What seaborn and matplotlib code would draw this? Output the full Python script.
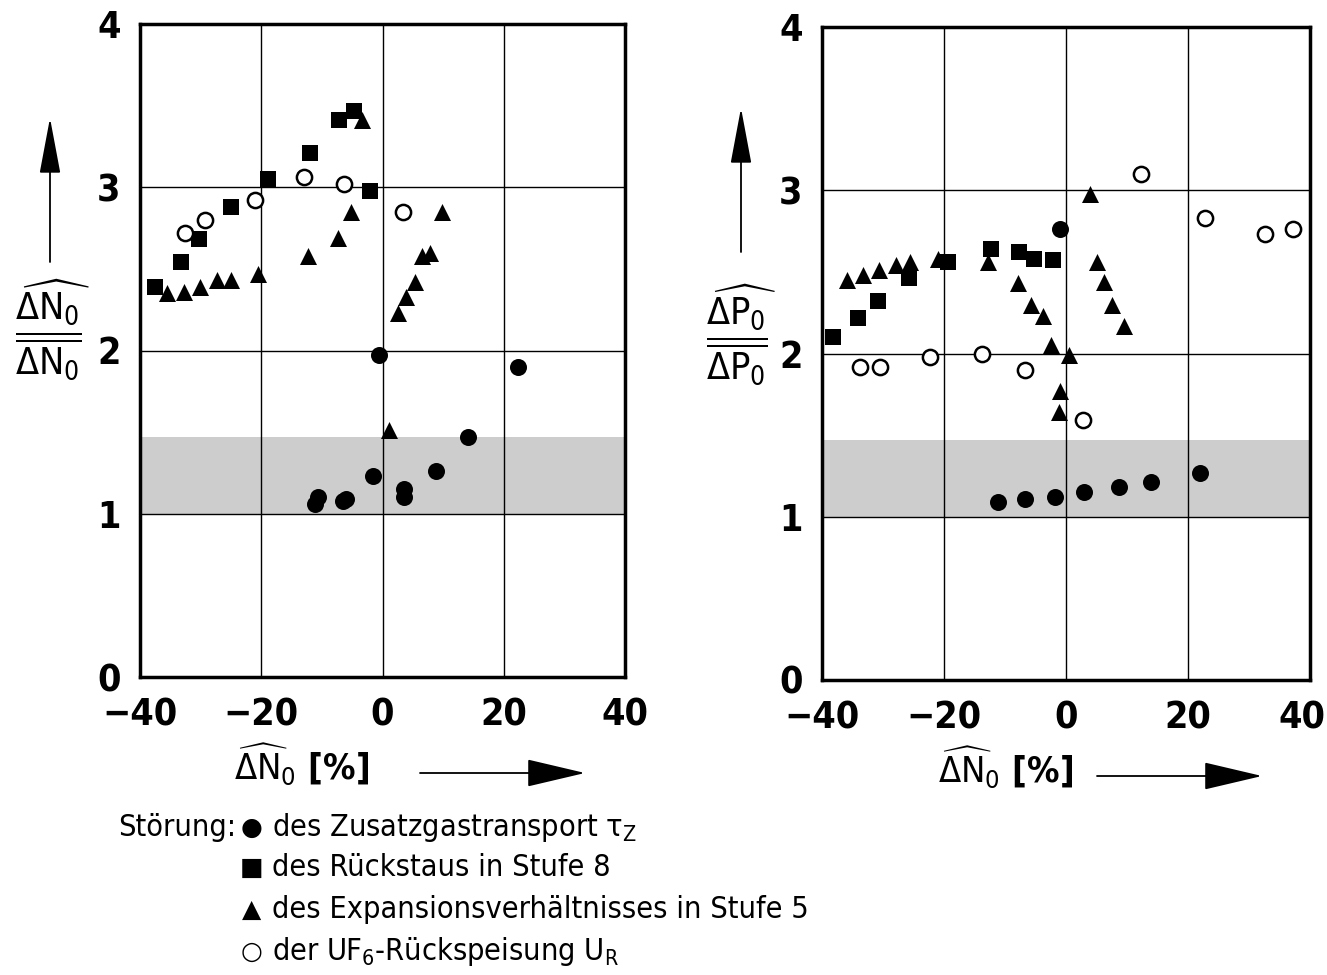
import matplotlib
matplotlib.use("Agg")
import matplotlib.pyplot as plt
import matplotlib.transforms as mtrans
import seaborn as sns
from matplotlib.patches import FancyArrowPatch
from matplotlib import font_manager as fm

# ---------------- data ----------------
# left panel: normalized ΔN0 amplitude vs ΔN0 [%]
circ_L_x = [-0.5, 22.3, 14.1, -1.6, 8.9, 3.5, 3.5, -10.6, -11.2, -6.5, -6.0]
circ_L_y = [1.97, 1.90, 1.47, 1.23, 1.26, 1.15, 1.10, 1.10, 1.06, 1.08, 1.09]
sq_L_x = [-37.6, -33.3, -30.2, -25.0, -18.9, -12.0, -7.2, -4.7, -2.0]
sq_L_y = [2.39, 2.54, 2.68, 2.88, 3.05, 3.21, 3.41, 3.47, 2.98]
tri_L_x = [-35.6, -32.8, -30.1, -27.3, -25.0, -20.5, -12.3, -7.3, -5.2, -3.3,
           1.0, 2.6, 3.9, 5.4, 6.5, 7.8, 9.8]
tri_L_y = [2.35, 2.36, 2.39, 2.43, 2.43, 2.47, 2.58, 2.69, 2.85, 3.41,
           1.51, 2.23, 2.33, 2.42, 2.58, 2.60, 2.85]
open_L_x = [-32.5, -29.3, -21.0, -13.0, -6.3, 3.3]
open_L_y = [2.72, 2.80, 2.92, 3.06, 3.02, 2.85]

# right panel: normalized ΔP0 amplitude vs ΔN0 [%]
circ_R_x = [-11.1, -6.7, -1.8, 3.0, 8.7, 13.9, 22.0, -1.0]
circ_R_y = [1.09, 1.11, 1.12, 1.15, 1.18, 1.21, 1.27, 2.76]
sq_R_x = [-38.2, -34.1, -30.8, -25.7, -19.3, -12.3, -7.7, -5.3, -2.1]
sq_R_y = [2.10, 2.22, 2.32, 2.46, 2.56, 2.64, 2.62, 2.58, 2.57]
tri_R_x = [-35.9, -33.3, -30.7, -27.9, -25.6, -21.0, -12.8, -7.9, -5.7, -3.8,
           -2.5, 0.5, -1.0, -1.1, 4.0, 5.1, 6.2, 7.5, 9.5]
tri_R_y = [2.45, 2.48, 2.51, 2.54, 2.56, 2.58, 2.56, 2.43, 2.30, 2.23,
           2.05, 1.99, 1.77, 1.64, 2.98, 2.56, 2.44, 2.30, 2.17]
open_R_x = [-33.8, -30.5, -22.3, -13.8, -6.7, 2.8, 12.3, 22.8, 32.6, 37.2]
open_R_y = [1.92, 1.92, 1.98, 2.00, 1.90, 1.59, 3.10, 2.83, 2.73, 2.76]

band_lo, band_hi = 1.0, 1.47
x_ticks = [-40, -20, 0, 20, 40]
y_ticks = [0, 1, 2, 3, 4]

legend_title = "Störung:"
legend_labels = ["des Zusatzgastransport $\\tau_Z$",
                 "des Rückstaus in Stufe 8",
                 "des Expansionsverhältnisses in Stufe 5",
                 "der UF$_6$-Rückspeisung U$_R$"]

# ---------------- style ----------------
sns.set_theme(style="white")
cond = any(f.name == "DejaVu Sans" and f.stretch == "condensed" for f in fm.fontManager.ttflist)
plt.rcParams["font.family"] = ["DejaVu Sans"]
if cond:
    plt.rcParams["font.stretch"] = "condensed"
    plt.rcParams["mathtext.fontset"] = "custom"
    plt.rcParams["mathtext.rm"] = "DejaVu Sans:stretch=condensed"
    plt.rcParams["mathtext.it"] = "DejaVu Sans:stretch=condensed"
    plt.rcParams["mathtext.bf"] = "DejaVu Sans:stretch=condensed:weight=bold"
    plt.rcParams["mathtext.sf"] = "DejaVu Sans:stretch=condensed"
    SCALE = 1.0
else:
    SCALE = 0.85
for k in ["text.color", "axes.labelcolor", "xtick.color", "ytick.color"]:
    plt.rcParams[k] = "black"
plt.rcParams["axes.unicode_minus"] = True

W, H = 1327, 975
fig = plt.figure(figsize=(W / 100, H / 100), dpi=100)


def fx(px):
    return px / W


def fy(py):
    return 1 - py / H


axL = fig.add_axes([fx(140), fy(677), fx(625) - fx(140), fy(24) - fy(677)])
axR = fig.add_axes([fx(822), fy(680), fx(1310) - fx(822), fy(27) - fy(680)])


def draw(ax, cx, cy, sx, sy, tx, ty, ox, oy):
    ax.axhspan(band_lo, band_hi, facecolor="#cdcdcd", edgecolor="none", zorder=0)
    for g in [-20, 0, 20]:
        ax.axvline(g, color="black", lw=1.0, zorder=1)
    for g in [1, 2, 3]:
        ax.axhline(g, color="black", lw=1.0, zorder=1)
    sns.scatterplot(x=cx, y=cy, ax=ax, marker="o", s=150, color="black",
                    edgecolor="black", linewidth=0, zorder=3)
    sns.scatterplot(x=sx, y=sy, ax=ax, marker="s", s=120, color="black",
                    edgecolor="black", linewidth=0, zorder=3)
    sns.scatterplot(x=tx, y=ty, ax=ax, marker="^", s=150, color="black",
                    edgecolor="black", linewidth=0, zorder=3)
    sns.scatterplot(x=ox, y=oy, ax=ax, marker="o", s=120, facecolor="white",
                    edgecolor="black", linewidth=1.8, zorder=3)
    ax.set_xlim(-40, 40)
    ax.set_ylim(0, 4)
    ax.set_xticks(x_ticks)
    ax.set_yticks(y_ticks)
    ax.set_xticklabels([f"{v:d}".replace("-", "\u2212") for v in x_ticks],
                       fontsize=27 * SCALE, fontweight="bold")
    ax.set_yticklabels([str(v) for v in y_ticks], fontsize=27 * SCALE,
                       fontweight="bold")
    ax.tick_params(axis="y", length=0, pad=14)
    ax.tick_params(axis="x", length=0, pad=15)
    for sp in ax.spines.values():
        sp.set_visible(True)
        sp.set_color("black")
        sp.set_linewidth(2.5)
    ax.set_xlabel("")
    ax.set_ylabel("")


draw(axL, circ_L_x, circ_L_y, sq_L_x, sq_L_y, tri_L_x, tri_L_y, open_L_x, open_L_y)
draw(axR, circ_R_x, circ_R_y, sq_R_x, sq_R_y, tri_R_x, tri_R_y, open_R_x, open_R_y)

# keep the right-most "40" inside the canvas, as in the reference
lab = axR.get_xticklabels()[-1]
lab.set_transform(lab.get_transform() + mtrans.ScaledTranslation(-8 / 100, 0, fig.dpi_scale_trans))


def arrow(x0, y0, x1, y1, hl=1.6, hw=0.3):
    a = FancyArrowPatch((fx(x0), fy(y0)), (fx(x1), fy(y1)), transform=fig.transFigure,
                        arrowstyle=f"-|>,head_length={hl},head_width={hw}",
                        mutation_scale=22, color="black", lw=1.3,
                        shrinkA=0, shrinkB=0)
    fig.add_artist(a)


# y labels
fig.text(fx(52), fy(330), r"$\dfrac{\widehat{\Delta \mathrm{N}_0}}{\overline{\Delta \mathrm{N}_0}}$",
         fontsize=27 * SCALE, ha="center", va="center")
arrow(50, 262, 50, 118)
fig.text(fx(741), fy(335), r"$\dfrac{\widehat{\Delta \mathrm{P}_0}}{\overline{\Delta \mathrm{P}_0}}$",
         fontsize=27 * SCALE, ha="center", va="center")
arrow(741, 252, 741, 108)

# x labels
fig.text(fx(302), fy(765), r"$\widehat{\Delta\mathrm{N}}_0$ [%]", fontsize=26 * SCALE,
         fontweight="bold", ha="center", va="center")
arrow(420, 773, 585, 773, hl=1.7, hw=0.4)
fig.text(fx(1006), fy(768), r"$\widehat{\Delta\mathrm{N}}_0$ [%]", fontsize=26 * SCALE,
         fontweight="bold", ha="center", va="center")
arrow(1097, 776, 1262, 776, hl=1.7, hw=0.4)

# legend
fig.text(fx(118), fy(828), legend_title, fontsize=22 * SCALE, ha="left", va="center")
syms = ["\u25CF", "\u25A0", "\u25B2", "\u25CB"]
rows = [828, 868, 910, 952]
for s, lab_txt, yy in zip(syms, legend_labels, rows):
    fig.text(fx(252), fy(yy), s, fontsize=18, ha="center", va="center",
             family=["DejaVu Sans"], stretch="normal")
    fig.text(fx(272), fy(yy), lab_txt, fontsize=22 * SCALE, ha="left", va="center")

fig.savefig("out.png", dpi=100)
